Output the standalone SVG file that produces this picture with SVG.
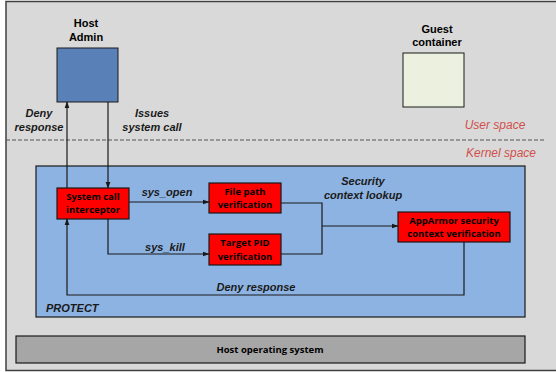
<svg xmlns="http://www.w3.org/2000/svg" width="556" height="372" viewBox="0 0 556 372">
<style>
.lbl{font-family:"Liberation Sans",Arial,sans-serif;font-weight:bold;font-size:11px;fill:#000;text-anchor:middle}
.it{font-family:"Liberation Sans",Arial,sans-serif;font-weight:bold;font-style:italic;font-size:11px;fill:#1a1a1a;text-anchor:middle}
.sp{font-family:"Liberation Sans",Arial,sans-serif;font-style:italic;font-size:12px;fill:#d0504d;text-anchor:middle}
.rt{font-family:"Open Sans","Liberation Sans",sans-serif;font-weight:bold;font-size:9.5px;fill:#000;text-anchor:middle}
.red{fill:#ff0000;stroke:#1a1a1a;stroke-width:1.2}
.ln{fill:none;stroke:#1a1a1a;stroke-width:1.2}
</style>
<defs>
<marker id="ah" viewBox="0 0 10 10" refX="9" refY="5" markerWidth="7" markerHeight="7" orient="auto" markerUnits="userSpaceOnUse">
<path d="M0,1.5 L10,5 L0,8.5 z" fill="#1a1a1a"/>
</marker>
</defs>
<rect x="6" y="1.5" width="560" height="369" fill="#d9d9d9" stroke="#404040" stroke-width="1.5"/>
<line x1="6" y1="140" x2="546" y2="140" stroke="#555" stroke-width="1" stroke-dasharray="4,2"/>
<text class="sp" x="495" y="129">User space</text>
<text class="sp" x="501" y="157">Kernel space</text>
<g id="protect">
<rect x="36" y="166" width="489" height="151" fill="#8db3e2" stroke="#1a1a1a" stroke-width="1.2"/>
<text class="it" x="46" y="312" style="text-anchor:start">PROTECT</text>
</g>
<g id="hostadmin">
<rect x="57" y="48" width="61" height="54" fill="#5981b8" stroke="#1a1a1a" stroke-width="1"/>
<text class="lbl" x="86" y="27">Host</text>
<text class="lbl" x="86" y="41">Admin</text>
</g>
<g id="guest">
<rect x="403" y="53" width="61" height="54" fill="#ebf1de" stroke="#1a1a1a" stroke-width="1"/>
<text class="lbl" x="437" y="33">Guest</text>
<text class="lbl" x="437" y="46">container</text>
</g>
<g id="interceptor">
<rect class="red" x="57" y="188" width="72" height="31"/>
<text class="rt" x="93" y="200">System call</text>
<text class="rt" x="93" y="213">interceptor</text>
</g>
<g id="filepath">
<rect class="red" x="209" y="183" width="72" height="30"/>
<text class="rt" x="245" y="195">File path</text>
<text class="rt" x="245" y="208">verification</text>
</g>
<g id="targetpid">
<rect class="red" x="209" y="234" width="72" height="31"/>
<text class="rt" x="245" y="246">Target PID</text>
<text class="rt" x="245" y="260">verification</text>
</g>
<g id="apparmor">
<rect class="red" x="398" y="212" width="112" height="30"/>
<text class="rt" x="454" y="224">AppArmor security</text>
<text class="rt" x="454" y="237">context verification</text>
</g>
<g id="hostos">
<rect x="16" y="336" width="509" height="27" fill="#a6a6a6" stroke="#1a1a1a" stroke-width="1.2"/>
<text class="rt" x="270" y="353">Host operating system</text>
</g>
<g id="connectors">
<line class="ln" x1="108" y1="102" x2="108" y2="188" marker-end="url(#ah)"/>
<line class="ln" x1="67" y1="188" x2="67" y2="102" marker-end="url(#ah)"/>
<line class="ln" x1="129" y1="202" x2="209" y2="202" marker-end="url(#ah)"/>
<polyline class="ln" points="108,219 108,254 209,254" marker-end="url(#ah)"/>
<polyline class="ln" points="281,203 322,203 322,254 281,254"/>
<line class="ln" x1="322" y1="226" x2="398" y2="226" marker-end="url(#ah)"/>
<polyline class="ln" points="464,242 464,295 67,295 67,219" marker-end="url(#ah)"/>
<text class="it" x="39" y="117">Deny</text>
<text class="it" x="39" y="131">response</text>
<text class="it" x="152" y="117">Issues</text>
<text class="it" x="152" y="131">system call</text>
<text class="it" x="167" y="196">sys_open</text>
<text class="it" x="165" y="251">sys_kill</text>
<text class="it" x="363" y="185">Security</text>
<text class="it" x="363" y="199">context lookup</text>
<text class="it" x="256" y="291">Deny response</text>
</g>
</svg>
